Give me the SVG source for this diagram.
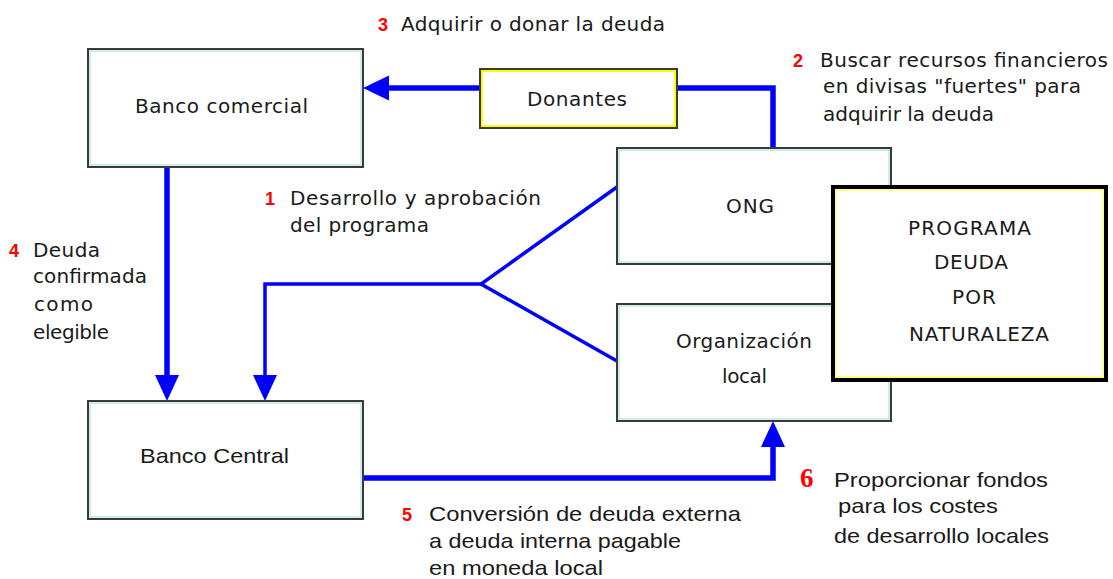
<svg xmlns="http://www.w3.org/2000/svg" width="1113" height="579" viewBox="0 0 1113 579">
<style>
.box{fill:#fff;stroke:#3a3a3a;stroke-width:2}
.inner{fill:none;stroke:#bde9e9;stroke-width:1.5}
.t{font-family:"DejaVu Sans","Liberation Sans",sans-serif;font-size:20px;fill:#1a1a1a}
.n{font-family:"Liberation Sans Narrow","Liberation Sans",sans-serif;font-size:21px;fill:#1a1a1a}
.r{font-family:"Liberation Sans",Arial,sans-serif;font-size:18px;font-weight:bold;fill:#ff0000}
.r6{font-family:"Liberation Serif","Times New Roman",serif;font-size:27px;font-weight:bold;fill:#ff0000}
.thick{fill:none;stroke:#0000ff;stroke-width:5.5}
.thin{fill:none;stroke:#0000ff;stroke-width:3.5}
.ah{fill:#0000ff}
</style>
<rect width="1113" height="579" fill="#ffffff"/>

<g id="connectors">
  <polyline class="thick" points="480,88 386,88"/>
  <polygon class="ah" points="363,88 389,75.5 389,100.5"/>
  <polyline class="thick" points="677,88 773,88 773,148"/>
  <polyline class="thick" points="167,168 167,378"/>
  <polygon class="ah" points="167,401 155,375 179,375"/>
  <polyline class="thin" points="617,187 481,284 617,361"/>
  <polyline class="thin" points="481,284 265,284 265,378"/>
  <polygon class="ah" points="265,401 253,375 277,375"/>
  <polyline class="thick" points="363,478 773,478 773,444"/>
  <polygon class="ah" points="773,421 761,447 785,447"/>
</g>

<g id="banco-comercial">
  <rect class="box" x="88" y="49" width="275" height="118"/>
  <rect class="inner" x="90" y="51" width="271" height="114"/>
  <text class="t" x="135" y="113" textLength="173" lengthAdjust="spacing">Banco comercial</text>
</g>

<g id="donantes">
  <rect x="480" y="69" width="197" height="59" fill="#fff" stroke="#3a3a3a" stroke-width="2"/>
  <rect x="482" y="71" width="193" height="55" fill="none" stroke="#ffff00" stroke-width="2"/>
  <text class="t" x="527" y="106" textLength="100" lengthAdjust="spacing">Donantes</text>
</g>

<g id="ong">
  <rect class="box" x="617" y="148" width="274" height="116"/>
  <rect class="inner" x="619" y="150" width="270" height="112"/>
  <text class="t" x="726" y="213" textLength="48" lengthAdjust="spacing">ONG</text>
</g>

<g id="organizacion-local">
  <rect class="box" x="617" y="304" width="274" height="117"/>
  <rect class="inner" x="619" y="306" width="270" height="113"/>
  <text class="t" x="676" y="348" textLength="136" lengthAdjust="spacing">Organización</text>
  <text class="t" x="722" y="383" textLength="45" lengthAdjust="spacing">local</text>
</g>

<g id="programa">
  <rect x="833" y="187" width="273" height="193" fill="#fff" stroke="#000" stroke-width="4"/>
  <rect x="836" y="190" width="267" height="187" fill="none" stroke="#ffff66" stroke-width="1.5"/>
  <text class="t" x="908" y="235" textLength="123" lengthAdjust="spacing">PROGRAMA</text>
  <text class="t" x="934" y="269" textLength="74" lengthAdjust="spacing">DEUDA</text>
  <text class="t" x="952" y="304" textLength="44" lengthAdjust="spacing">POR</text>
  <text class="t" x="909" y="341" textLength="140" lengthAdjust="spacing">NATURALEZA</text>
</g>

<g id="banco-central">
  <rect class="box" x="88" y="401" width="275" height="118"/>
  <rect class="inner" x="90" y="403" width="271" height="114"/>
  <text class="n" x="140" y="463" textLength="149" lengthAdjust="spacingAndGlyphs">Banco Central</text>
</g>

<g id="labels">
  <text class="r" x="378" y="31">3</text>
  <text class="t" x="401" y="31" textLength="264" lengthAdjust="spacing">Adquirir o donar la deuda</text>

  <text class="r" x="793" y="67">2</text>
  <text class="t" x="820" y="67" textLength="288" lengthAdjust="spacing">Buscar recursos financieros</text>
  <text class="t" x="823" y="93" textLength="258" lengthAdjust="spacing">en divisas "fuertes" para</text>
  <text class="t" x="823" y="121" textLength="171" lengthAdjust="spacing">adquirir la deuda</text>

  <text class="r" x="265" y="205">1</text>
  <text class="t" x="290" y="205" textLength="251" lengthAdjust="spacing">Desarrollo y aprobación</text>
  <text class="t" x="290" y="232" textLength="139" lengthAdjust="spacing">del programa</text>

  <text class="r" x="9" y="257">4</text>
  <text class="t" x="33" y="257" textLength="67" lengthAdjust="spacing">Deuda</text>
  <text class="t" x="33" y="283" textLength="114" lengthAdjust="spacing">confirmada</text>
  <text class="t" x="34" y="311" textLength="59" lengthAdjust="spacing">como</text>
  <text class="t" x="33" y="339" textLength="76" lengthAdjust="spacing">elegible</text>

  <text class="r" x="402" y="521">5</text>
  <text class="n" x="429" y="521" textLength="312" lengthAdjust="spacingAndGlyphs">Conversión de deuda externa</text>
  <text class="n" x="429" y="548" textLength="252" lengthAdjust="spacingAndGlyphs">a deuda interna pagable</text>
  <text class="n" x="429" y="575" textLength="174" lengthAdjust="spacingAndGlyphs">en moneda local</text>

  <text class="r6" x="800" y="487">6</text>
  <text class="n" x="834" y="487" textLength="214" lengthAdjust="spacingAndGlyphs">Proporcionar fondos</text>
  <text class="n" x="838" y="513" textLength="160" lengthAdjust="spacingAndGlyphs">para los costes</text>
  <text class="n" x="834" y="543" textLength="215" lengthAdjust="spacingAndGlyphs">de desarrollo locales</text>
</g>
</svg>
